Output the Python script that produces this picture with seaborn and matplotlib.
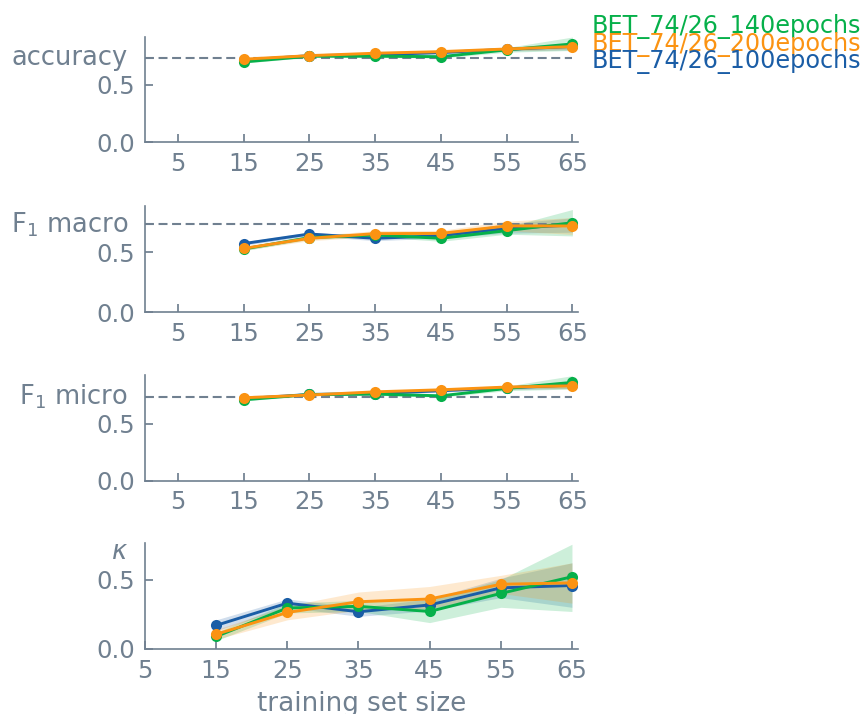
import numpy as np
import pandas as pd
import matplotlib
matplotlib.use("Agg")
import matplotlib.pyplot as plt
import matplotlib.transforms as mtransforms
import seaborn as sns

# training set sizes and model names
sizes = [15, 25, 35, 45, 55, 65]
models = ["BET_74/26_100epochs", "BET_74/26_140epochs", "BET_74/26_200epochs"]
colors = {"BET_74/26_100epochs": "#1a5da6",
          "BET_74/26_140epochs": "#06b04a",
          "BET_74/26_200epochs": "#fb9312"}

# accuracy: mean, lower and upper bound per model
acc_mean = {"BET_74/26_100epochs": [0.715, 0.755, 0.762, 0.782, 0.810, 0.835],
            "BET_74/26_140epochs": [0.700, 0.750, 0.750, 0.746, 0.805, 0.857],
            "BET_74/26_200epochs": [0.724, 0.755, 0.776, 0.790, 0.813, 0.834]}
acc_lo = {"BET_74/26_100epochs": [0.705, 0.745, 0.752, 0.770, 0.795, 0.805],
          "BET_74/26_140epochs": [0.690, 0.740, 0.740, 0.734, 0.785, 0.800],
          "BET_74/26_200epochs": [0.714, 0.745, 0.764, 0.778, 0.798, 0.809]}
acc_hi = {"BET_74/26_100epochs": [0.725, 0.765, 0.772, 0.794, 0.825, 0.865],
          "BET_74/26_140epochs": [0.710, 0.760, 0.760, 0.758, 0.825, 0.917],
          "BET_74/26_200epochs": [0.734, 0.765, 0.788, 0.802, 0.828, 0.859]}

# F1 macro
f1ma_mean = {"BET_74/26_100epochs": [0.570, 0.650, 0.614, 0.636, 0.697, 0.725],
             "BET_74/26_140epochs": [0.525, 0.620, 0.642, 0.614, 0.678, 0.744],
             "BET_74/26_200epochs": [0.530, 0.614, 0.653, 0.655, 0.717, 0.717]}
f1ma_lo = {"BET_74/26_100epochs": [0.555, 0.635, 0.594, 0.616, 0.657, 0.665],
           "BET_74/26_140epochs": [0.510, 0.605, 0.627, 0.589, 0.648, 0.634],
           "BET_74/26_200epochs": [0.515, 0.594, 0.628, 0.630, 0.677, 0.647]}
f1ma_hi = {"BET_74/26_100epochs": [0.585, 0.665, 0.634, 0.656, 0.737, 0.785],
           "BET_74/26_140epochs": [0.540, 0.635, 0.657, 0.639, 0.708, 0.854],
           "BET_74/26_200epochs": [0.545, 0.634, 0.678, 0.680, 0.757, 0.787]}

# F1 micro
f1mi_mean = {"BET_74/26_100epochs": [0.720, 0.757, 0.765, 0.790, 0.815, 0.840],
             "BET_74/26_140epochs": [0.710, 0.757, 0.760, 0.745, 0.810, 0.863],
             "BET_74/26_200epochs": [0.728, 0.752, 0.780, 0.798, 0.822, 0.833]}
f1mi_lo = {"BET_74/26_100epochs": [0.710, 0.747, 0.755, 0.778, 0.800, 0.810],
           "BET_74/26_140epochs": [0.700, 0.747, 0.750, 0.733, 0.790, 0.805],
           "BET_74/26_200epochs": [0.718, 0.742, 0.768, 0.786, 0.807, 0.808]}
f1mi_hi = {"BET_74/26_100epochs": [0.730, 0.767, 0.775, 0.802, 0.830, 0.870],
           "BET_74/26_140epochs": [0.720, 0.767, 0.770, 0.757, 0.830, 0.922],
           "BET_74/26_200epochs": [0.738, 0.762, 0.792, 0.810, 0.837, 0.858]}

# Cohen's kappa
kap_mean = {"BET_74/26_100epochs": [0.170, 0.330, 0.268, 0.317, 0.440, 0.457],
            "BET_74/26_140epochs": [0.090, 0.295, 0.307, 0.270, 0.400, 0.520],
            "BET_74/26_200epochs": [0.106, 0.263, 0.340, 0.360, 0.466, 0.476]}
kap_lo = {"BET_74/26_100epochs": [0.130, 0.300, 0.235, 0.275, 0.370, 0.300],
          "BET_74/26_140epochs": [0.060, 0.260, 0.270, 0.190, 0.300, 0.270],
          "BET_74/26_200epochs": [0.070, 0.210, 0.280, 0.290, 0.400, 0.330]}
kap_hi = {"BET_74/26_100epochs": [0.210, 0.360, 0.300, 0.360, 0.510, 0.620],
          "BET_74/26_140epochs": [0.120, 0.330, 0.350, 0.350, 0.500, 0.754],
          "BET_74/26_200epochs": [0.140, 0.310, 0.410, 0.450, 0.530, 0.620]}

metric_names = ["accuracy", r"F$_1$ macro", r"F$_1$ micro", r"$\kappa$"]
baselines = [0.732, 0.730, 0.737, None]
label_levels = [0.732, 0.730, 0.737, 0.70]
y_tops = [0.92, 0.88, 0.927, 0.76]
x_lefts = [0, 0, 0, 5]
x_ticks = [5, 15, 25, 35, 45, 55, 65]

means = [acc_mean, f1ma_mean, f1mi_mean, kap_mean]
lows = [acc_lo, f1ma_lo, f1mi_lo, kap_lo]
highs = [acc_hi, f1ma_hi, f1mi_hi, kap_hi]

grey = "#708090"
sns.set_theme(style="ticks")
plt.rcParams.update({
    "font.family": ["DejaVu Sans"],
    "axes.edgecolor": grey,
    "axes.linewidth": 1.2,
    "xtick.color": grey,
    "ytick.color": grey,
    "text.color": grey,
    "axes.labelcolor": grey,
    "xtick.direction": "in",
    "ytick.direction": "in",
    "xtick.major.size": 5.5,
    "ytick.major.size": 5.5,
    "xtick.major.pad": 7,
    "ytick.major.pad": 7,
    "xtick.labelsize": 17.5,
    "ytick.labelsize": 17.5,
    "mathtext.fontset": "dejavusans",
})

W, H = 865, 714
fig = plt.figure(figsize=(W / 100, H / 100), dpi=100)
fig.patch.set_facecolor("white")

ax_left, ax_right = 145, 578
ax_h = 105.6
bottoms_px = [142.3, 312.0, 480.7, 649.0]

order = ["BET_74/26_100epochs", "BET_74/26_140epochs", "BET_74/26_200epochs"]

for i in range(4):
    ax = fig.add_axes([ax_left / W, 1 - bottoms_px[i] / H,
                       (ax_right - ax_left) / W, ax_h / H])
    rows = []
    for m in order:
        for s, v, lo, hi in zip(sizes, means[i][m], lows[i][m], highs[i][m]):
            rows.append({"size": s, "value": v, "lo": lo, "hi": hi, "model": m})
    df = pd.DataFrame(rows)

    for m in order:
        sub = df[df["model"] == m]
        ax.fill_between(sub["size"], sub["lo"], sub["hi"],
                        color=colors[m], alpha=0.2, linewidth=0)
    sns.lineplot(data=df, x="size", y="value", hue="model", hue_order=order,
                 palette=colors, marker="o", markersize=8, markeredgewidth=0,
                 linewidth=2.1, legend=False, ax=ax)

    if baselines[i] is not None:
        ax.plot([0, 65], [baselines[i]] * 2, color=grey, linestyle="--",
                linewidth=1.5, dashes=(4.3, 2.2), zorder=1)

    ax.set_xlim(x_lefts[i], 65.85)
    ax.set_ylim(0, y_tops[i])
    ax.set_xticks(x_ticks)
    ax.set_xticklabels([str(t) for t in x_ticks])
    ax.set_yticks([0.0, 0.5])
    ax.set_yticklabels(["0.0", "0.5"])
    ax.set_xlabel("")
    ax.set_ylabel("")
    sns.despine(ax=ax)

    trans = mtransforms.blended_transform_factory(ax.transAxes, ax.transData)
    ax.text(-17 / (ax_right - ax_left), label_levels[i], metric_names[i],
            transform=trans, ha="right", va="center", fontsize=18.5, color=grey)

    if i == 3:
        ax.set_xlabel("training set size", fontsize=18.8, color=grey, labelpad=6)

# model names as coloured text at the upper right
legend_items = [("BET_74/26_140epochs", 33.3),
                ("BET_74/26_200epochs", 50.8),
                ("BET_74/26_100epochs", 68.3)]
for name, y_px in legend_items:
    fig.text(592 / W, 1 - y_px / H, name, color=colors[name], fontsize=17.2,
             ha="left", va="baseline")

fig.savefig("out.png", dpi=100, facecolor="white")
